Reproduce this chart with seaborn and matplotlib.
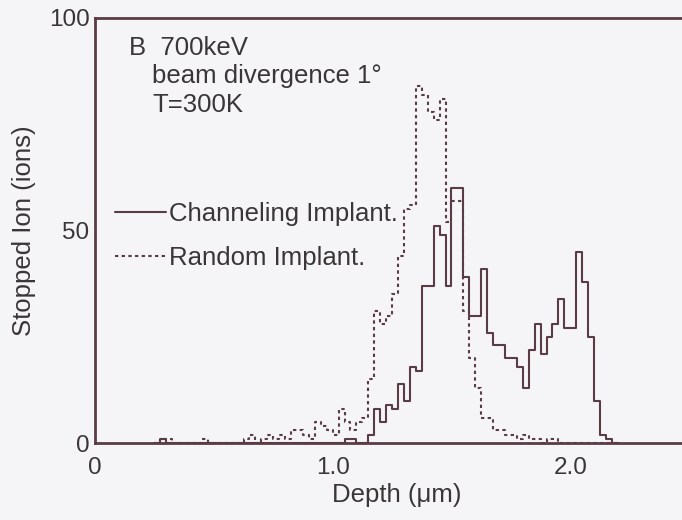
import numpy as np
import pandas as pd
import matplotlib
matplotlib.use("Agg")
import matplotlib.pyplot as plt
import seaborn as sns
from matplotlib.lines import Line2D
from matplotlib.ticker import MultipleLocator

# ---------------- data ----------------
BIN_WIDTH = 0.025          # um
FIRST_BIN = 0.25           # um, start of the first listed bin

# stopped ions per bin, bins 0.250 ... 2.175 um
channeling = [
    0, 1, 0, 0, 0, 0, 0, 0, 0, 0,        # 0.250 - 0.475
    0, 0, 0, 0, 0, 0, 0, 0, 0, 0,        # 0.500 - 0.725
    0, 0, 0, 0, 0, 0, 0, 0, 0, 0,        # 0.750 - 0.975
    0, 0, 1, 1, 0, 0, 2, 8, 5, 9,        # 1.000 - 1.225
    8, 14, 10, 18, 17, 37, 37, 51, 49, 37,   # 1.250 - 1.475
    60, 60, 39, 30, 30, 41, 26, 23, 23, 20,  # 1.500 - 1.725
    20, 18, 13, 22, 28, 21, 25, 28, 34, 27,  # 1.750 - 1.975
    27, 45, 38, 25, 10, 2, 1, 0,             # 2.000 - 2.175
]
random_implant = [
    0, 1, 1, 0, 0, 0, 0, 0, 1, 0,        # 0.250 - 0.475
    0, 0, 0, 0, 0, 1, 2, 0, 1, 2,        # 0.500 - 0.725
    1, 2, 1, 3, 3, 2, 1, 5, 4, 3,        # 0.750 - 0.975
    2, 8, 5, 3, 5, 6, 15, 31, 28, 30,    # 1.000 - 1.225
    35, 44, 55, 56, 84, 82, 78, 76, 81, 52,  # 1.250 - 1.475
    57, 57, 31, 20, 13, 6, 6, 3, 3, 2,       # 1.500 - 1.725
    2, 1, 2, 1, 1, 0, 1, 1, 0, 0,            # 1.750 - 1.975
    0, 0, 0, 0, 0, 0, 0, 0,                  # 2.000 - 2.175
]
series_labels = ["Channeling Implant.", "Random Implant."]
annotation_lines = ["B  700keV", "beam divergence 1°", "T=300K"]
x_label = "Depth (μm)"
y_label = "Stopped Ion (ions)"
x_tick_values = [0, 1.0, 2.0]
x_tick_labels = ["0", "1.0", "2.0"]
y_tick_values = [0, 50, 100]
y_tick_labels = ["0", "50", "100"]

# ---------------- build table ----------------
n_bins = len(channeling)
edges = FIRST_BIN + BIN_WIDTH * np.arange(n_bins + 1)
centers = edges[:-1] + BIN_WIDTH / 2
df = pd.DataFrame({
    "depth": np.concatenate([centers, centers]),
    "ions": np.concatenate([channeling, random_implant]).astype(float),
    "series": [series_labels[0]] * n_bins + [series_labels[1]] * n_bins,
})

# ---------------- style ----------------
BG = "#f5f4f6"
INK = "#5a3d44"
TXT = "#3a3637"
FS = 18.5
sns.set_style("white")
plt.rcParams["font.family"] = ["Liberation Sans", "DejaVu Sans"]
plt.rcParams["text.color"] = TXT
plt.rcParams["axes.labelcolor"] = TXT
plt.rcParams["xtick.color"] = TXT
plt.rcParams["ytick.color"] = TXT

fig = plt.figure(figsize=(6.82, 5.20), dpi=100, facecolor=BG)
ax = fig.add_axes([95 / 682, 1 - 443 / 520, 1 - 95 / 682, (443 - 18) / 520])
ax.set_facecolor(BG)

styles = {series_labels[0]: "-", series_labels[1]: (0, (1.6, 1.6))}
for lab in series_labels:
    sub = df[df["series"] == lab]
    sns.histplot(data=sub, x="depth", weights="ions", bins=list(edges),
                 element="step", fill=False, color=INK, linewidth=1.5,
                 linestyle=styles[lab], ax=ax)

ax.set_xlim(0, 2.47)
ax.set_ylim(0, 100)
ax.set_xticks(x_tick_values)
ax.set_xticklabels(x_tick_labels)
ax.xaxis.set_minor_locator(MultipleLocator(0.5))
ax.set_yticks(y_tick_values)
ax.set_yticklabels(y_tick_labels)
ax.tick_params(axis="x", which="both", direction="in", length=6, width=1.2,
               color=INK, labelsize=FS - 1, pad=10)
ax.tick_params(axis="y", which="both", direction="in", length=11, width=1.2,
               color=INK, labelsize=FS - 1, pad=4)
ax.set_xlabel(x_label, fontsize=FS, labelpad=3)
ax.xaxis.set_label_coords(0.514, -0.095)
ax.set_ylabel(y_label, fontsize=FS, labelpad=9)

for side in ["left", "bottom", "top"]:
    ax.spines[side].set_color(INK)
    ax.spines[side].set_linewidth(2.0)
ax.spines["right"].set_visible(False)

ax.text(0.058, 0.913, annotation_lines[0], transform=ax.transAxes,
        fontsize=FS, va="baseline", ha="left")
ax.text(0.097, 0.847, annotation_lines[1], transform=ax.transAxes,
        fontsize=FS, va="baseline", ha="left")
ax.text(0.097, 0.780, annotation_lines[2], transform=ax.transAxes,
        fontsize=FS, va="baseline", ha="left")

handles = [Line2D([], [], color=INK, lw=1.5, linestyle=styles[lab]) for lab in series_labels]
ax.legend(handles, series_labels, loc="upper left", bbox_to_anchor=(0.034, 0.568),
          frameon=False, fontsize=FS, handlelength=2.0, handletextpad=0.12,
          labelspacing=0.8, borderpad=0, borderaxespad=0)

fig.savefig("out.png", dpi=100, facecolor=BG)
